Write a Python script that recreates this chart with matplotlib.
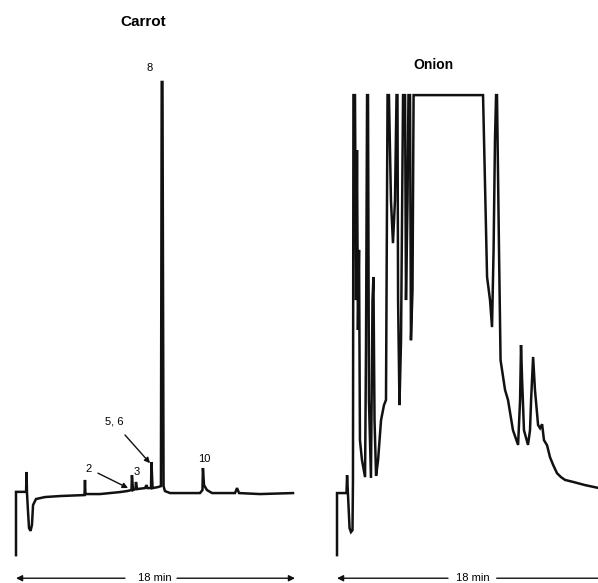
import numpy as np
import matplotlib
matplotlib.use('Agg')
import matplotlib.pyplot as plt

plt.rcParams['font.family'] = ['Liberation Sans', 'DejaVu Sans']

# retention time (min) and detector signal (% of full scale)
carrot_t = [0, 0, 0.65, 0.68, 0.71, 0.77, 0.84, 0.94, 1.03, 1.10, 1.29, 1.87, 2.84,
            4.42, 4.45, 4.48, 5.42, 6.71, 7.16, 7.45, 7.48, 7.55, 7.71, 7.74, 7.81,
            8.32, 8.42, 8.48, 8.71, 8.74, 8.81, 9.16, 9.35, 9.40, 9.45, 9.52, 9.61,
            9.94, 11.87, 12.03, 12.06, 12.13, 12.32, 12.65, 14.13, 14.26, 14.39,
            15.74, 17.87]
carrot_s = [-15.6, 0.3, 0.3, 5.3, 0, -4.3, -8.8, -9.5, -8.0, -3.0, -1.5, -1.0, -0.75,
            -0.5, 3.3, -0.25, -0.25, 0.25, 0.5, 0.75, 4.5, 0.75, 1.0, 2.8, 1.0,
            1.25, 2.0, 1.25, 1.25, 7.8, 1.25, 1.5, 1.75, 103.3, 103.3, 1.75, 0.5,
            0, 0, 0.75, 6.3, 2.0, 0.75, 0, 0, 1.25, 0,
            -0.25, 0]

onion_t = [0, 0, 0.61, 0.65, 0.71, 0.81, 0.90, 1.0, 1.03, 1.06, 1.16, 1.23, 1.29,
           1.35, 1.42, 1.48, 1.61, 1.81, 1.87, 1.94, 2.0, 2.06, 2.19, 2.29, 2.35,
           2.42, 2.52, 2.65, 2.84, 3.03, 3.16, 3.26, 3.35, 3.48, 3.61, 3.74, 3.84,
           3.90, 3.94, 4.03, 4.13, 4.26, 4.39, 4.45, 4.55, 4.61, 4.71, 4.77, 4.87,
           4.94, 9.42, 9.68, 9.87, 10.0, 10.1, 10.19, 10.26, 10.32, 10.45, 10.55,
           10.84, 11.03, 11.35, 11.68, 11.81, 11.87, 11.94, 12.06, 12.32, 12.45,
           12.52, 12.65, 12.77, 12.97, 13.10, 13.23, 13.35, 13.55, 13.74, 13.95,
           14.19, 14.45, 14.71, 15.23, 16.0, 16.84]
onion_s = [-15.6, 0, 0, 4.5, -0.5, -8.8, -9.8, -9.3, 3.3, 100, 100, 48.5, 86.2,
           41.0, 61.1, 13.3, 8.3, 4.0, 35.9, 100, 100, 23.4, 3.8, 48.5, 54.3,
           18.3, 4.3, 8.3, 18.3, 22.1, 23.4, 100, 100, 73.6, 62.8, 73.6, 100,
           100, 48.5, 22.1, 38.4, 100, 100, 48.5, 73.6, 100, 100, 38.4, 51.0,
           100, 100, 54.3, 48.5, 41.7, 61.1, 88.7, 100, 100, 61.1, 33.4,
           25.9, 23.4, 15.8, 12.1, 23.4, 37.2, 28.4, 15.8, 12.1, 15.8,
           23.4, 34.2, 25.9, 17.1, 16.3, 17.3, 13.3, 12.0, 9.0, 7.0,
           5.0, 4.0, 3.3, 2.8, 2.0, 1.3]

# peak labels: text, label position, arrow target (None = no arrow)
peak_labels = ['8', '10', '5, 6', '3', '2']
peak_label_t = [8.65, 12.13, 6.32, 7.80, 4.71]
peak_label_s = [106.8, 8.5, 18.1, 5.3, 6.0]
peak_arrow_from = [None, None, (7.03, 14.6), None, (5.29, 5.0)]
peak_arrow_to = [None, None, (8.65, 7.5), None, (7.23, 1.26)]

run_length = 18  # min

W, H = 598, 583
fig = plt.figure(figsize=(W / 100, H / 100), dpi=100)
ylim = (-22.6, 123.9)
ax1 = fig.add_axes([0.5 / W, 0, 310 / W, 1])
ax2 = fig.add_axes([321.5 / W, 0, 277.5 / W, 1])
ax1.set_xlim(-1, 19)
ax2.set_xlim(-1, 16.9)
for ax in (ax1, ax2):
    ax.set_ylim(*ylim)
    ax.axis('off')

ax1.plot(carrot_t, carrot_s, color='#111111', lw=1.8, solid_joinstyle='miter')
ax2.plot(onion_t, onion_s, color='#111111', lw=1.8, solid_joinstyle='miter')

ax1.text(8.19, 118.3, 'Carrot', ha='center', va='center', fontsize=11, fontweight='bold')
ax2.text(6.19, 107.5, 'Onion', ha='center', va='center', fontsize=10, fontweight='bold')

for lab, t, s, a0, a1 in zip(peak_labels, peak_label_t, peak_label_s,
                             peak_arrow_from, peak_arrow_to):
    ax1.text(t, s, lab, ha='center', va='center', fontsize=8)
    if a0 is not None:
        ax1.annotate('', xy=a1, xytext=a0,
                     arrowprops=dict(arrowstyle='-|>', color='#111111', lw=1.0,
                                     mutation_scale=8, shrinkA=0, shrinkB=0))

# time-scale arrows below each trace
arrow_s = -21.4
for ax, tc, gap_l, gap_r in ((ax1, 8.97, 7.03, 10.39), (ax2, 8.77, 7.16, 10.3)):
    ax.text(tc, arrow_s, f'{run_length} min', ha='center', va='center', fontsize=8)
    ax.annotate('', xy=(0, arrow_s), xytext=(gap_l, arrow_s),
                arrowprops=dict(arrowstyle='-|>', color='#111111', lw=1.0,
                                mutation_scale=9, shrinkA=0, shrinkB=0),
                annotation_clip=False)
    ax.annotate('', xy=(run_length, arrow_s), xytext=(gap_r, arrow_s),
                arrowprops=dict(arrowstyle='-|>', color='#111111', lw=1.0,
                                mutation_scale=9, shrinkA=0, shrinkB=0),
                annotation_clip=False)

fig.savefig('out.png', dpi=100)
